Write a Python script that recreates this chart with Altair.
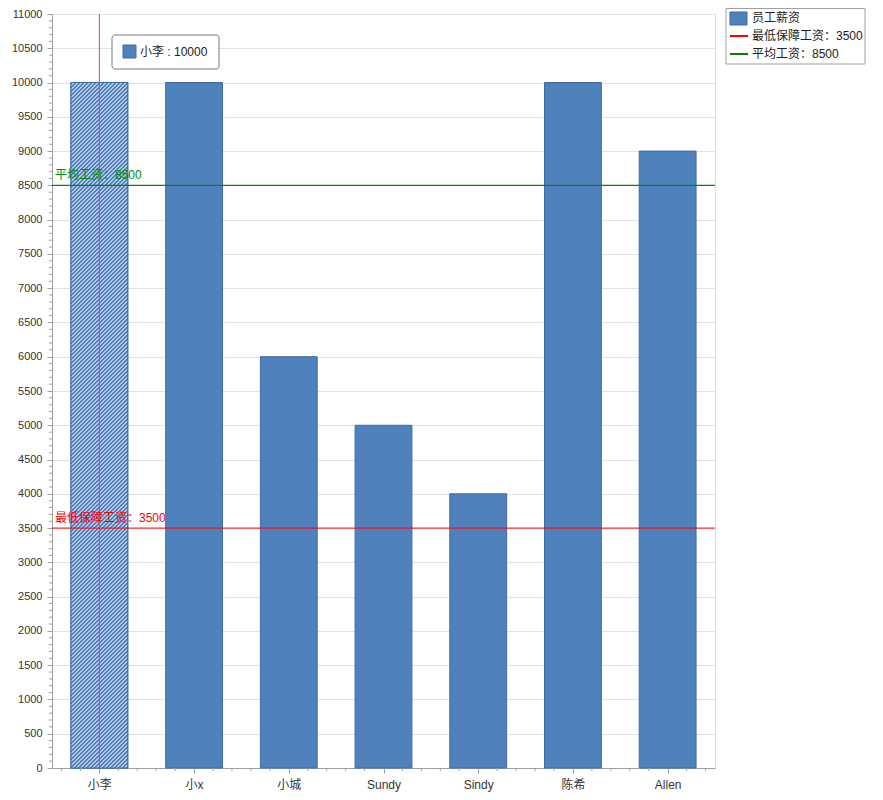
import altair as alt
import pandas as pd

# ---------------- data ----------------
names = ["小李", "小x", "小城", "Sundy", "Sindy", "陈希", "Allen"]
salaries = [10000, 10000, 6000, 5000, 4000, 10000, 9000]
series_name = "员工薪资"
min_label = "最低保障工资"
min_wage = 3500
avg_label = "平均工资"
avg_wage = 8500
hover_index = 0
y_max = 11000

# ---------------- style ----------------
TOP = 6
W, H = 663, 760 - TOP
BLUE = "#4f81bd"
EDGE = "#3d6ba3"
LIGHT = "#b2c7e6"
AXIS = "#a0a0a0"
GRID = "#e2e2e2"
TXT = "#333333"
FONT = "Liberation Sans, Noto Sans CJK SC, sans-serif"
BAR_HALF = 0.3

df = pd.DataFrame({"idx": list(range(len(names))), "name": names, "salary": salaries})
label_expr = "[" + ",".join("'%s'" % n for n in names) + "][datum.value]"

xscale = alt.Scale(domain=[-0.5, len(names) - 0.5], nice=False, zero=False)
yscale = alt.Scale(domain=[0, y_max], nice=False)

x_axis = alt.Axis(values=list(range(len(names))), labelExpr=label_expr, title=None,
                  grid=False, tickSize=5, tickColor=AXIS, domainColor=AXIS,
                  labelFontSize=12, labelColor=TXT, labelPadding=6, labelFont=FONT,
                  labelOverlap=False)
y_axis = alt.Axis(values=list(range(0, y_max + 1, 500)), title=None, grid=True, format="d",
                  gridColor=GRID, tickSize=5, tickColor=AXIS, domainColor=AXIS,
                  labelFontSize=11, labelColor=TXT, labelPadding=5, labelFont=FONT,
                  labelOverlap=False)


def X(f):
    return alt.X(f, scale=xscale, axis=x_axis)


def Y(f):
    return alt.Y(f, scale=yscale, axis=y_axis)


bars = alt.Chart(df).transform_calculate(
    lo="datum.idx - %f" % BAR_HALF, hi="datum.idx + %f" % BAR_HALF
).mark_bar(fill=BLUE, stroke=EDGE, strokeWidth=1).encode(
    x=X("lo:Q"), x2="hi:Q", y=Y("salary:Q"), y2=alt.datum(0),
)

# hatched (highlighted) bar via striped gradient
bw = 2 * BAR_HALF * W / len(names)
bh = H * salaries[hover_index] / y_max
L = bw + bh
den = bw * bw + bh * bh
gx2 = bw * L / den
gy2 = bh * L / den
period = 4.0
stripe = 1.5
stops = []
k = 0
while k * period < L:
    t0 = k * period / L
    t1 = min((k * period + period - stripe) / L, 1.0)
    t2 = min((k + 1) * period / L, 1.0)
    stops += [alt.GradientStop(offset=t0, color=BLUE), alt.GradientStop(offset=t1, color=BLUE),
              alt.GradientStop(offset=t1, color=LIGHT), alt.GradientStop(offset=t2, color=LIGHT)]
    k += 1
hatch = alt.LinearGradient(gradient="linear", x1=0, y1=0, x2=gx2, y2=gy2, stops=stops)

hbar = alt.Chart(df[df.idx == hover_index]).transform_calculate(
    lo="datum.idx - %f" % BAR_HALF, hi="datum.idx + %f" % BAR_HALF
).mark_bar(fill=hatch, stroke=EDGE, strokeWidth=1).encode(
    x=X("lo:Q"), x2="hi:Q", y=Y("salary:Q"), y2=alt.datum(0),
)

# minor ticks
xminor = pd.DataFrame({"pos": [i + d for i in range(len(names)) for d in (-0.4, -0.2, 0.2, 0.4)]})
xm = alt.Chart(xminor).mark_rule(color=AXIS, strokeWidth=1).encode(
    x=X("pos:Q"), y=alt.value(H), y2=alt.value(H + 3)
)
yminor = pd.DataFrame({"v": [v for v in range(100, y_max, 100) if v % 500]})
ym = alt.Chart(yminor).mark_rule(color=AXIS, strokeWidth=1).encode(
    y=Y("v:Q"), x=alt.value(-3), x2=alt.value(0)
)

# crosshair
cross = alt.Chart(df[df.idx == hover_index]).mark_rule(color="#c040c8", strokeWidth=1).encode(
    x=X("idx:Q"), y=alt.value(0), y2=alt.value(H)
)


def ref_layers(label, value, color, width):
    d = pd.DataFrame({"value": [value], "text": [label + "：" + str(value)]})
    r = alt.Chart(d).mark_rule(color=color, strokeWidth=width, opacity=1).encode(
        y=Y("value:Q"), x=alt.value(0), x2=alt.value(W)
    )
    t = alt.Chart(d).mark_text(align="left", baseline="bottom", dy=-3, fontSize=12,
                               font=FONT, color=color).encode(
        y=Y("value:Q"), x=alt.value(3), text="text:N"
    )
    return [r, t]


refs = ref_layers(min_label, min_wage, "#ff0000", 1) + ref_layers(avg_label, avg_wage, "#008c00", 1.4)

# tooltip box
o = 1 - TOP
one = pd.DataFrame({"name": [names[hover_index]], "salary": [salaries[hover_index]]})
tip_box = alt.Chart(one).mark_rect(fill="white", stroke="#7a7a7a", strokeWidth=1, cornerRadius=3).encode(
    x=alt.value(60), x2=alt.value(167), y=alt.value(26 + o), y2=alt.value(60 + o)
)
tip_sq = alt.Chart(one).mark_rect(fill=BLUE, stroke=EDGE).encode(
    x=alt.value(71), x2=alt.value(84), y=alt.value(36 + o), y2=alt.value(49 + o)
)
tip_txt = alt.Chart(one).transform_calculate(
    t="datum.name + ' : ' + datum.salary"
).mark_text(align="left", baseline="middle", fontSize=12, font=FONT, color="#222").encode(
    x=alt.value(88), y=alt.value(43 + o), text="t:N"
)

# legend
leg_box = alt.Chart(one).mark_rect(fill="white", stroke=AXIS, strokeWidth=1).encode(
    x=alt.value(674), x2=alt.value(813), y=alt.value(-TOP + 0.5), y2=alt.value(55 + o)
)
leg_sq = alt.Chart(one).mark_rect(fill=BLUE, stroke=EDGE).encode(
    x=alt.value(678), x2=alt.value(695), y=alt.value(3 + o), y2=alt.value(16 + o)
)
leg_texts = [series_name, min_label + "：" + str(min_wage), avg_label + "：" + str(avg_wage)]
leg_rows = [9, 27, 45]
leg_txt = [
    alt.Chart(one).mark_text(align="left", baseline="middle", fontSize=12, font=FONT,
                             color="#222", text=t).encode(x=alt.value(700), y=alt.value(yy + o))
    for t, yy in zip(leg_texts, leg_rows)
]
leg_red = alt.Chart(one).mark_rule(color="#ff0000", strokeWidth=2).encode(
    x=alt.value(678), x2=alt.value(696), y=alt.value(27 + o)
)
leg_green = alt.Chart(one).mark_rule(color="#008000", strokeWidth=2).encode(
    x=alt.value(678), x2=alt.value(696), y=alt.value(45 + o)
)

chart = alt.layer(
    bars, hbar, xm, ym, cross, *refs,
    tip_box, tip_sq, tip_txt,
    leg_box, leg_sq, *leg_txt, leg_red, leg_green,
).properties(
    width=W, height=H,
    autosize=alt.AutoSizeParams(type="none"),
    padding={"left": 44, "top": TOP, "right": 160, "bottom": 24},
    background="white",
).configure_view(stroke=AXIS, strokeWidth=1).configure(font=FONT)

chart.save("out.html", embed_options={"renderer": "svg", "actions": False})
